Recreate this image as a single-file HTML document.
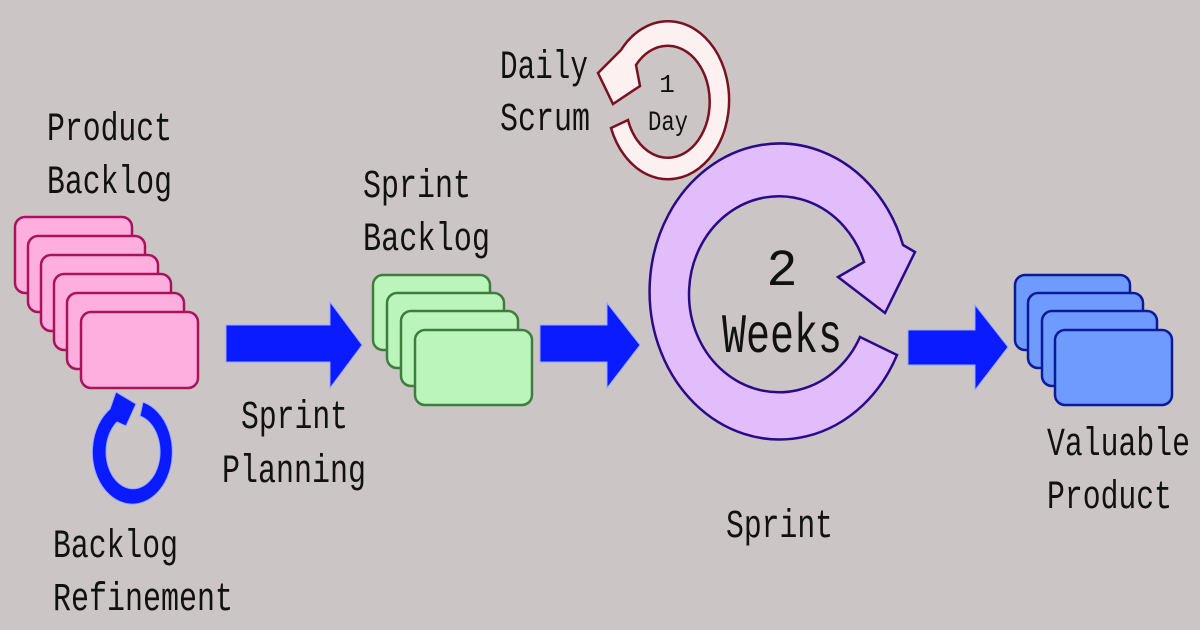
<!DOCTYPE html>
<html><head><meta charset="utf-8"><style>
html,body{margin:0;padding:0;background:#cbc6c5;}
svg{display:block}
text{font-family:"Liberation Mono",monospace;fill:#111;}
</style></head><body>
<svg width="1200" height="630" viewBox="0 0 1200 630" xmlns="http://www.w3.org/2000/svg">
<rect width="1200" height="630" fill="#cbc6c5"/>
<!-- pink cards -->
<g fill="#ffaee0" stroke="#a8135a" stroke-width="2.5">
<rect x="15" y="217" width="117" height="76" rx="10"/>
<rect x="28" y="236" width="117" height="76" rx="10"/>
<rect x="41" y="255" width="117" height="76" rx="10"/>
<rect x="54" y="274" width="117" height="76" rx="10"/>
<rect x="67" y="293" width="117" height="76" rx="10"/>
<rect x="81" y="312" width="117" height="76" rx="10"/>
</g>
<!-- green cards -->
<g fill="#bbf5bb" stroke="#3f7d3f" stroke-width="2.5">
<rect x="373" y="275" width="117" height="75" rx="10"/>
<rect x="387" y="293" width="117" height="75" rx="10"/>
<rect x="401" y="311" width="117" height="75" rx="10"/>
<rect x="415" y="330" width="117" height="75" rx="10"/>
</g>
<!-- blue cards -->
<g fill="#6f9bff" stroke="#0a1a9a" stroke-width="2.5">
<rect x="1015" y="275" width="115" height="75" rx="10"/>
<rect x="1028" y="293" width="115" height="75" rx="10"/>
<rect x="1042" y="311" width="115" height="75" rx="10"/>
<rect x="1055" y="330" width="117" height="75" rx="10"/>
</g>
<!-- blue arrows -->
<g fill="#0a1cff" stroke="#9aa8ff" stroke-width="1">
<polygon points="226,325 330,325 330,302 362,345 330,388 330,362 226,362"/>
<polygon points="540,325 607,325 607,303 640,345 607,388 607,362 540,362"/>
<polygon points="908,330 975,330 975,305 1008,347 975,390 975,365 908,365"/>
</g>
<!-- backlog refinement ring -->
<path d="M140,416 L143,402 A40,52 0 1 1 110,409 L116,392 L136,404 L126,426 L117,422 A27,37 0 1 0 140,416 Z" fill="#0a1cff" stroke="#9aa8ff" stroke-width="1"/>
<!-- daily scrum ring -->
<path d="M628,120 L611,128 A61,79 0 1 0 621,50 L598,73 L613,104 L640,86 L636,65 A42,56 0 1 1 628,120 Z" fill="#fdf0f0" stroke="#7a1020" stroke-width="2.5"/>
<!-- sprint ring -->
<path d="M860,337 L897,355 A130,148 0 1 1 903,245 L915,252 L885,313 L838,277 L864,262 A90,98 0 1 0 860,337 Z" fill="#e2bdfb" stroke="#2a0a8a" stroke-width="2.5"/>
<!-- labels -->
<text x="47" y="140" font-size="40" textLength="125" lengthAdjust="spacingAndGlyphs">Product</text>
<text x="47" y="193" font-size="40" textLength="125" lengthAdjust="spacingAndGlyphs">Backlog</text>
<text x="363" y="197" font-size="40" textLength="108" lengthAdjust="spacingAndGlyphs">Sprint</text>
<text x="363" y="250" font-size="40" textLength="127" lengthAdjust="spacingAndGlyphs">Backlog</text>
<text x="241" y="428" font-size="40" textLength="107" lengthAdjust="spacingAndGlyphs">Sprint</text>
<text x="222" y="482" font-size="40" textLength="144" lengthAdjust="spacingAndGlyphs">Planning</text>
<text x="53" y="557" font-size="40" textLength="125" lengthAdjust="spacingAndGlyphs">Backlog</text>
<text x="53" y="610" font-size="40" textLength="180" lengthAdjust="spacingAndGlyphs">Refinement</text>
<text x="500" y="78" font-size="40" textLength="88" lengthAdjust="spacingAndGlyphs">Daily</text>
<text x="500" y="130" font-size="40" textLength="90" lengthAdjust="spacingAndGlyphs">Scrum</text>
<text x="726" y="537" font-size="40" textLength="107" lengthAdjust="spacingAndGlyphs">Sprint</text>
<text x="1047" y="455" font-size="40" textLength="143" lengthAdjust="spacingAndGlyphs">Valuable</text>
<text x="1047" y="508" font-size="40" textLength="125" lengthAdjust="spacingAndGlyphs">Product</text>
<text x="782" y="285" font-size="52" text-anchor="middle">2</text>
<text x="722" y="352" font-size="56" textLength="120" lengthAdjust="spacingAndGlyphs">Weeks</text>
<text x="667" y="92" font-size="26" text-anchor="middle">1</text>
<text x="648" y="130" font-size="28" textLength="40" lengthAdjust="spacingAndGlyphs">Day</text>
</svg>
</body></html>
